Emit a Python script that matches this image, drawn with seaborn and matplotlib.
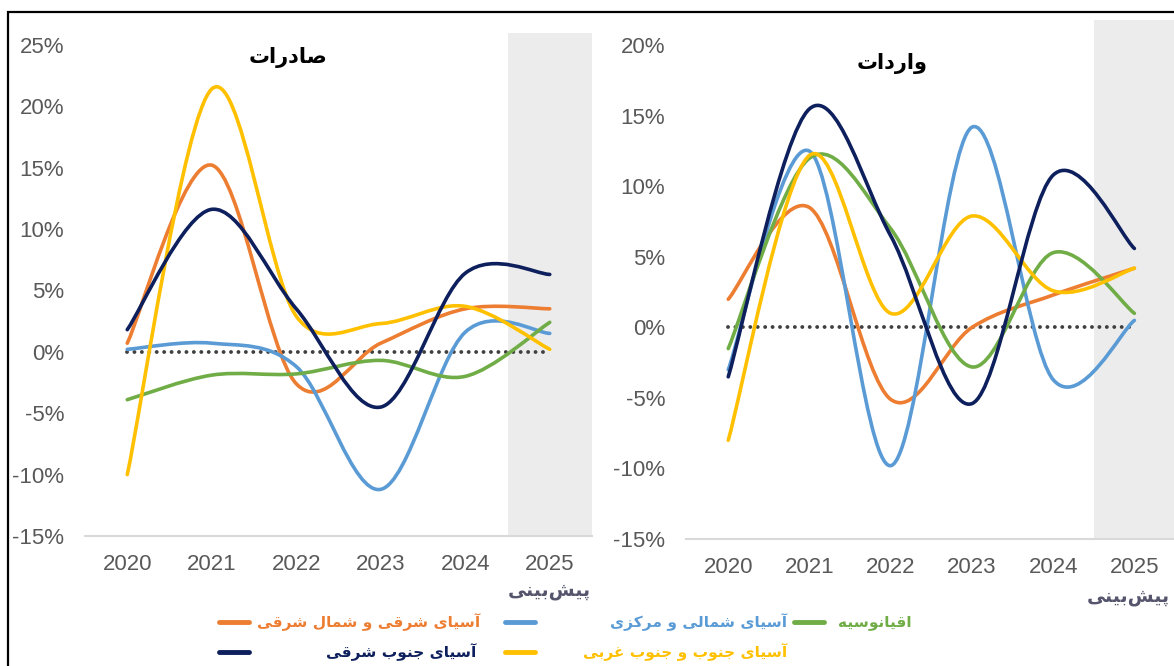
import numpy as np
import matplotlib.pyplot as plt
import seaborn as sns
from matplotlib.path import Path
from matplotlib.patches import PathPatch, Rectangle
from matplotlib.lines import Line2D

#### Data

years = [2020, 2021, 2022, 2023, 2024, 2025]
year_labels = ['2020', '2021', '2022', '2023', '2024', '2025']
forecast_label = 'پیش\u200cبینی'
baseline = [0, 0, 0, 0, 0, 0]

regions = ['آسیای شرقی و شمال شرقی', 'آسیای شمالی و مرکزی', 'اقیانوسیه',
           'آسیای جنوب و جنوب غربی', 'آسیای جنوب شرقی']
region_colors = ['#ED7D31', '#5B9BD5', '#70AD47', '#FFC000', '#0D1F5C']

# صادرات (%)
exp_east = [0.7, 15.2, -2.6, 0.7, 3.5, 3.5]
exp_north = [0.2, 0.7, -1.2, -11.2, 1.6, 1.5]
exp_oceania = [-3.9, -1.9, -1.8, -0.7, -2.0, 2.4]
exp_south = [-10.0, 21.4, 2.9, 2.3, 3.7, 0.2]
exp_southeast = [1.8, 11.6, 3.5, -4.5, 6.4, 6.3]

# واردات (%)
imp_east = [2.0, 8.5, -5.1, 0.0, 2.3, 4.2]
imp_north = [-3.0, 12.5, -9.8, 14.2, -3.7, 0.5]
imp_oceania = [-1.5, 12.0, 7.0, -2.8, 5.3, 1.0]
imp_south = [-8.0, 12.2, 1.0, 7.9, 2.6, 4.2]
imp_southeast = [-3.5, 15.5, 6.5, -5.4, 10.8, 5.6]

exp_ticks = [-15, -10, -5, 0, 5, 10, 15, 20, 25]
imp_ticks = [-15, -10, -5, 0, 5, 10, 15, 20]

#### Persian shaping (matplotlib has no text shaping)

FORMS = {
    '\u0622': ('\uFE81', '\uFE82'), '\u0627': ('\uFE8D', '\uFE8E'),
    '\u062F': ('\uFEA9', '\uFEAA'), '\u0631': ('\uFEAD', '\uFEAE'),
    '\u0632': ('\uFEAF', '\uFEB0'), '\u0648': ('\uFEED', '\uFEEE'),
    '\u0628': ('\uFE8F', '\uFE90', '\uFE91', '\uFE92'),
    '\u067E': ('\uFB56', '\uFB57', '\uFB58', '\uFB59'),
    '\u062A': ('\uFE95', '\uFE96', '\uFE97', '\uFE98'),
    '\u062C': ('\uFE9D', '\uFE9E', '\uFE9F', '\uFEA0'),
    '\u0633': ('\uFEB1', '\uFEB2', '\uFEB3', '\uFEB4'),
    '\u0634': ('\uFEB5', '\uFEB6', '\uFEB7', '\uFEB8'),
    '\u0635': ('\uFEB9', '\uFEBA', '\uFEBB', '\uFEBC'),
    '\u063A': ('\uFECD', '\uFECE', '\uFECF', '\uFED0'),
    '\u0642': ('\uFED5', '\uFED6', '\uFED7', '\uFED8'),
    '\u06A9': ('\uFB8E', '\uFB8F', '\uFB90', '\uFB91'),
    '\u0644': ('\uFEDD', '\uFEDE', '\uFEDF', '\uFEE0'),
    '\u0645': ('\uFEE1', '\uFEE2', '\uFEE3', '\uFEE4'),
    '\u0646': ('\uFEE5', '\uFEE6', '\uFEE7', '\uFEE8'),
    '\u0647': ('\uFEE9', '\uFEEA', '\uFEEB', '\uFEEC'),
    '\u06CC': ('\uFBFC', '\uFBFD', '\uFBFE', '\uFBFF'),
}


def fa(text):
    out = []
    for i, ch in enumerate(text):
        forms = FORMS.get(ch)
        if forms is None:
            if ch != '\u200c':
                out.append(ch)
            continue
        prev = text[i - 1] if i > 0 else ''
        nxt = text[i + 1] if i + 1 < len(text) else ''
        join_prev = len(FORMS.get(prev, ())) == 4
        join_next = len(forms) == 4 and nxt in FORMS
        if join_prev and join_next:
            out.append(forms[3])
        elif join_prev:
            out.append(forms[1])
        elif join_next:
            out.append(forms[2])
        else:
            out.append(forms[0])
    return ''.join(reversed(out))


def smooth_path(ax, x, y):
    # excel style smoothed line: bezier through the points,
    # control arms capped at half the segment length (in screen space)
    pts = np.column_stack([x, y]).astype(float)
    ext = np.vstack([pts[0], pts, pts[-1]])
    bb = ax.get_window_extent()
    (x0, x1), (y0, y1) = ax.get_xlim(), ax.get_ylim()
    scale = np.array([bb.width / (x1 - x0), bb.height / (y1 - y0)])
    dist = lambda a, b: np.hypot(*((b - a) * scale))
    verts, codes = [pts[0]], [Path.MOVETO]
    for i in range(len(pts) - 1):
        p0, p1, p2, p3 = ext[i], ext[i + 1], ext[i + 2], ext[i + 3]
        d12, d02, d13 = dist(p1, p2), dist(p0, p2), dist(p1, p3)
        f1 = 1 / 6 if d02 / 6 < d12 / 2 else d12 / (2 * d02)
        f2 = 1 / 6 if d13 / 6 < d12 / 2 else d12 / (2 * d13)
        verts += [p1 + (p2 - p0) * f1, p2 - (p3 - p1) * f2, p2]
        codes += [Path.CURVE4] * 3
    return Path(verts, codes)


#### Graphics

sns.set_theme(style='white')
plt.rcParams['font.family'] = ['Liberation Sans', 'DejaVu Sans']

W, H = 1174, 666
fig = plt.figure(figsize=(W / 100, H / 100), dpi=100)
fx = lambda px: px / W
fy = lambda py: 1 - py / H

ax1 = fig.add_axes([fx(85), fy(536), fx(507), (536 - 32.5) / H])
ax2 = fig.add_axes([fx(686), fy(539), fx(489), (539 - 20) / H])

panels = [
    (ax1, [exp_east, exp_north, exp_oceania, exp_south, exp_southeast],
     exp_ticks, (-15, 26), (2019.5, 2025.5), 'صادرات', (288, 57), (549, 590)),
    (ax2, [imp_east, imp_north, imp_oceania, imp_south, imp_southeast],
     imp_ticks, (-15, 21.8), (2019.48, 2025.5), 'واردات', (892, 63), (1128, 597)),
]

for ax, series, ticks, ylim, xlim, title, tpos, fpos in panels:
    ax.axvspan(2024.5, 2025.5, color='#ececec', zorder=0, lw=0)
    sns.lineplot(x=years, y=baseline, ax=ax, color='#404040', lw=2.8,
                 linestyle=(0, (0.01, 1.9)), dash_capstyle='round', zorder=2)
    ax.set_xlim(*xlim)
    ax.set_ylim(*ylim)
    for vals, col in zip(series, region_colors):
        ax.add_patch(PathPatch(smooth_path(ax, years, vals), fill=False,
                               edgecolor=col, lw=2.6, capstyle='round',
                               joinstyle='round', zorder=3))
    ax.set_xticks(years)
    ax.set_xticklabels(year_labels)
    ax.set_yticks(ticks)
    ax.set_yticklabels([f'{t}%' for t in ticks])
    ax.tick_params(axis='both', labelsize=16, labelcolor='#595959', length=0)
    ax.tick_params(axis='y', pad=15)
    ax.tick_params(axis='x', pad=13)
    ax.set_facecolor('none')
    for s in ['top', 'left', 'right']:
        ax.spines[s].set_visible(False)
    ax.spines['bottom'].set_color('#d9d9d9')
    ax.spines['bottom'].set_linewidth(1.5)
    ax.set_xlabel('')
    ax.set_ylabel('')
    fig.text(fx(tpos[0]), fy(tpos[1]), fa(title), family='DejaVu Sans',
             weight='bold', fontsize=15, color='black', ha='center', va='center')
    fig.text(fx(fpos[0]), fy(fpos[1]), fa(forecast_label), family='DejaVu Sans',
             weight='bold', fontsize=13.5, color='#55556d', ha='center', va='center')

# legend, laid out right-to-left like the original
legend_rows = [[0, 1, 2], [4, 3]]
dash_x = [[219, 505, 794], [219, 505]]
text_right = [[480, 787, 912], [476, 787]]
row_y = [622, 652]
for r, idxs in enumerate(legend_rows):
    for k, i in enumerate(idxs):
        x0 = dash_x[r][k]
        fig.add_artist(Line2D([fx(x0), fx(x0 + 30)], [fy(row_y[r])] * 2,
                              color=region_colors[i], lw=3.5,
                              transform=fig.transFigure))
        fig.text(fx(text_right[r][k]), fy(row_y[r]), fa(regions[i]),
                 family='DejaVu Sans', weight='bold', fontsize=11.1,
                 color=region_colors[i], ha='right', va='center')

fig.add_artist(Rectangle((fx(8), -0.1), 1.5, fy(12) + 0.1, fill=False,
                         edgecolor='black', lw=1.6, transform=fig.transFigure))

fig.savefig('out.png', dpi=100)
